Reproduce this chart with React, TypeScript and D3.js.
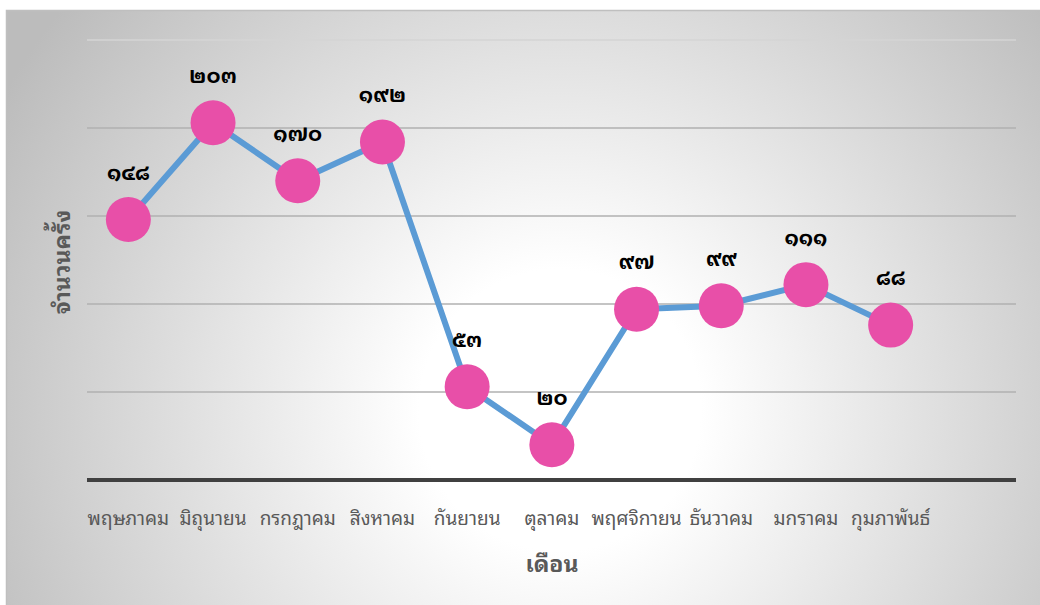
import React, { useEffect, useRef } from 'react';
import * as d3 from 'd3';

const months = ['พฤษภาคม', 'มิถุนายน', 'กรกฎาคม', 'สิงหาคม', 'กันยายน', 'ตุลาคม', 'พฤศจิกายน', 'ธันวาคม', 'มกราคม', 'กุมภาพันธ์'];
const counts = [148, 203, 170, 192, 53, 20, 97, 99, 111, 88];
const gridTicks = [0, 50, 100, 150, 200, 250];

const thaiDigits = '๐๑๒๓๔๕๖๗๘๙';
const toThai = (n: number) => String(n).replace(/\d/g, (c) => thaiDigits[+c]);

const FONT = "Tahoma, 'Leelawadee UI', 'Noto Sans Thai Looped', Loma, Garuda, Waree, 'Noto Sans Thai', 'Noto Sans', sans-serif";

const App = () => {
  const ref = useRef<HTMLDivElement>(null);

  useEffect(() => {
    d3.select(ref.current).select('svg').remove();

    const width = 1040;
    const height = 605;

    const svg = d3.select(ref.current)
      .append('svg')
      .attr('width', width)
      .attr('height', height)
      .style('position', 'absolute')
      .style('left', 0)
      .style('top', 0);

    const defs = svg.append('defs');
    const grad = defs.append('radialGradient')
      .attr('id', 'bg')
      .attr('gradientUnits', 'userSpaceOnUse')
      .attr('cx', 560)
      .attr('cy', 410)
      .attr('r', 640);
    grad.append('stop').attr('offset', '0%').attr('stop-color', '#ffffff');
    grad.append('stop').attr('offset', '22%').attr('stop-color', '#ffffff');
    grad.append('stop').attr('offset', '100%').attr('stop-color', '#bcbcbc');

    svg.append('rect')
      .attr('x', 6.5)
      .attr('y', 10.5)
      .attr('width', 1040)
      .attr('height', 600)
      .attr('fill', 'url(#bg)')
      .attr('stroke', '#bfbfbf')
      .attr('stroke-width', 1.5);

    const x = d3.scaleBand<string>()
      .domain(months)
      .range([86, 933]);

    const y = d3.scaleLinear()
      .domain([0, 250])
      .range([480, 40]);

    const plotLeft = 87;
    const plotRight = 1016;

    // gridlines
    svg.append('g')
      .selectAll('line')
      .data(gridTicks.filter((t) => t > 0))
      .enter()
      .append('line')
      .attr('x1', plotLeft)
      .attr('x2', plotRight)
      .attr('y1', (d) => y(d))
      .attr('y2', (d) => y(d))
      .attr('stroke', (d) => (d === 250 ? '#d4d4d4' : '#b0b0b0'))
      .attr('stroke-width', 1.3);

    // x axis line
    svg.append('line')
      .attr('x1', plotLeft)
      .attr('x2', plotRight)
      .attr('y1', y(0))
      .attr('y2', y(0))
      .attr('stroke', '#404040')
      .attr('stroke-width', 4);

    // category labels
    svg.append('g')
      .selectAll('text')
      .data(months)
      .enter()
      .append('text')
      .attr('x', (d) => (x(d) as number) + x.bandwidth() / 2)
      .attr('y', 525)
      .attr('text-anchor', 'middle')
      .attr('fill', '#595959')
      .style('font-family', FONT)
      .style('font-size', '19px')
      .text((d) => d);

    const cx = (i: number) => (x(months[i]) as number) + x.bandwidth() / 2;

    const line = d3.line<number>()
      .x((_, i) => cx(i))
      .y((d) => y(d));

    svg.append('path')
      .datum(counts)
      .attr('d', line)
      .attr('fill', 'none')
      .attr('stroke', '#5b9bd5')
      .attr('stroke-width', 6)
      .attr('stroke-linejoin', 'round');

    svg.append('g')
      .selectAll('circle')
      .data(counts)
      .enter()
      .append('circle')
      .attr('cx', (_, i) => cx(i))
      .attr('cy', (d) => y(d))
      .attr('r', 22.5)
      .attr('fill', '#e84fa8');

    svg.append('g')
      .selectAll('text')
      .data(counts)
      .enter()
      .append('text')
      .attr('x', (_, i) => cx(i))
      .attr('y', (d) => y(d) - 40)
      .attr('text-anchor', 'middle')
      .attr('fill', '#000000')
      .style('font-family', FONT)
      .style('font-size', '21px')
      .style('font-weight', 'bold')
      .text((d) => toThai(d));

    // axis titles
    svg.append('text')
      .attr('transform', 'translate(70,262) rotate(-90)')
      .attr('text-anchor', 'middle')
      .attr('fill', '#595959')
      .style('font-family', FONT)
      .style('font-size', '23px')
      .style('font-weight', 'bold')
      .text('จำนวนครั้ง');

    svg.append('text')
      .attr('x', 552)
      .attr('y', 572)
      .attr('text-anchor', 'middle')
      .attr('fill', '#595959')
      .style('font-family', FONT)
      .style('font-size', '23px')
      .style('font-weight', 'bold')
      .text('เดือน');
  }, []);

  return <div ref={ref}></div>;
};

export default App;
